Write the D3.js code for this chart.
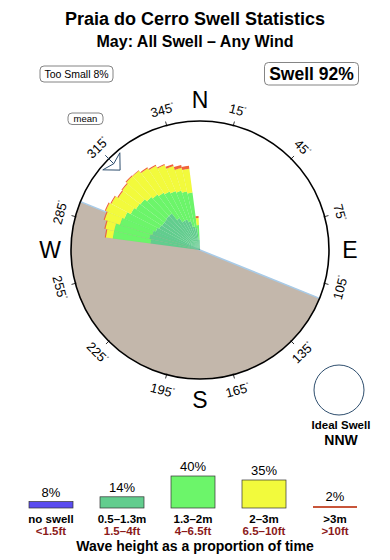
<!DOCTYPE html>
<html>
<head>
<meta charset="utf-8">
<script src="https://cdn.jsdelivr.net/npm/d3@7"></script>
<style>
  html, body { margin: 0; padding: 0; background: #fff; }
  svg { display: block; font-family: "Liberation Sans", Arial, sans-serif; }
</style>
</head>
<body>
<svg id="chart" width="390" height="560"></svg>
<script>
// swell direction bins (deg, centre of each 5 deg wedge)
var bins = [280, 285, 290, 295, 300, 305, 310, 315, 320, 325, 330, 335, 340, 345, 350, 355]
// % of time per bin for each height class
var small  = [1.63, 1.76, 1.63, 1.50, 1.38, 1.32, 1.32, 1.38, 1.38, 0.94, 0.71, 0.71, 0.59, 0.38, 0.32, 0.07]
var medium = [3.42, 3.29, 2.97, 2.88, 2.59, 2.45, 2.35, 2.00, 1.81, 2.07, 2.13, 1.96, 1.92, 1.97, 1.87, 0.34]
var large  = [0.83, 1.08, 1.92, 2.40, 2.55, 2.36, 2.59, 3.14, 3.33, 3.12, 3.04, 2.85, 2.54, 2.25, 2.19, 0.26]
var huge   = [0.13, 0.13, 0.13, 0.14, 0.13, 0.13, 0.13, 0.13, 0.07, 0.13, 0.13, 0.12, 0.23, 0.33, 0.33, 0.08]

var legendNames = ['no swell', '0.5–1.3m', '1.3–2m', '2–3m', '>3m']
var legendFeet  = ['<1.5ft', '1.5–4ft', '4–6.5ft', '6.5–10ft', '>10ft']
var legendPct   = [8, 14, 40, 35, 2]

var degreeTicks = [15, 45, 75, 105, 135, 165, 195, 225, 255, 285, 315, 345]
var compassNames = ['N', 'E', 'S', 'W']
var compassDeg   = [0, 90, 180, 270]

var coastBearing = 292   // shore line runs 292 -> 112, land to the SW
var meanBearing = 315
var tooSmall = 8
var swellPct = 92
var idealName = 'NNW'

//
// setup
//
var W = 390, H = 560
var cx = 200, cy = 250, R = 129
var colors = ['#5a4cf0', '#62cd8e', '#6cf56a', '#f2fa3c', '#f0643a']
var legendColors = ['#5a4cf0', '#62cd8e', '#6cf56a', '#f2fa3c', '#c8553a']

var svg = d3.select('#chart')
svg.append('rect').attr('width', W).attr('height', H).attr('fill', '#fff')

var rad = function (d) { return d * Math.PI / 180 }
var polar = function (deg, r) { return [cx + r * Math.sin(rad(deg)), cy - r * Math.cos(rad(deg))] }

// titles
svg.append('text').attr('x', 195).attr('y', 25).attr('text-anchor', 'middle')
  .attr('font-size', 18).attr('font-weight', 'bold').text('Praia do Cerro Swell Statistics')
svg.append('text').attr('x', 195).attr('y', 47).attr('text-anchor', 'middle')
  .attr('font-size', 16).attr('font-weight', 'bold').text('May: All Swell – Any Wind')

function box(x, y, w, h, label, size, weight) {
  svg.append('rect').attr('x', x).attr('y', y).attr('width', w).attr('height', h).attr('rx', 4)
    .attr('fill', '#fff').attr('stroke', '#666').attr('stroke-width', 0.8)
  svg.append('text').attr('x', x + w / 2).attr('y', y + h / 2).attr('dy', '0.36em')
    .attr('text-anchor', 'middle').attr('font-size', size).attr('font-weight', weight || 'normal').text(label)
}
box(40, 66, 73, 16, 'Too Small ' + tooSmall + '%', 10.5)
box(264.5, 62.5, 94, 22.5, 'Swell ' + swellPct + '%', 17.5, 'bold')
box(68, 113, 35, 11.5, 'mean', 9.5)

var rose = svg.append('g').attr('transform', 'translate(' + cx + ',' + cy + ')')

// land half disc + shoreline
rose.append('path')
  .attr('d', d3.arc()({ innerRadius: 0, outerRadius: R, startAngle: rad(coastBearing - 180), endAngle: rad(coastBearing) }))
  .attr('fill', '#c3b7ab')
var c0 = polar(coastBearing, R), c1 = polar(coastBearing - 180, R)
rose.append('line').attr('x1', c0[0] - cx).attr('y1', c0[1] - cy).attr('x2', c1[0] - cx).attr('y2', c1[1] - cy)
  .attr('stroke', '#a8cbe8').attr('stroke-width', 1.5)

// stacked wedges
var r = d3.scaleSqrt().domain([0, 10.85]).range([0, R])
var table = bins.map(function (b, i) {
  return { dir: b, small: small[i], medium: medium[i], large: large[i], huge: huge[i] }
})
var keys = ['small', 'medium', 'large', 'huge']
var series = d3.stack().keys(keys)(table)
var arc = d3.arc()

rose.selectAll('g.layer').data(series).join('g')
  .attr('class', 'layer')
  .attr('fill', function (d, i) { return colors[i + 1] })
  .selectAll('path').data(function (d) { return d }).join('path')
  .attr('d', function (d) {
    return arc({ innerRadius: r(d[0]), outerRadius: r(d[1]),
      startAngle: rad(d.data.dir - 2.5), endAngle: rad(d.data.dir + 2.5) })
  })
  .attr('stroke', 'rgba(0,0,0,0.035)').attr('stroke-width', 0.4)

// outer ring
rose.append('circle').attr('r', R).attr('fill', 'none').attr('stroke', '#000').attr('stroke-width', 1.6)

// degree ticks + labels
degreeTicks.forEach(function (deg) {
  var a = polar(deg, R - 1), b = polar(deg, R + 4)
  svg.append('line').attr('x1', a[0]).attr('y1', a[1]).attr('x2', b[0]).attr('y2', b[1])
    .attr('stroke', '#000').attr('stroke-width', 0.8)
  var p = polar(deg, 145)
  var rot = deg % 180 > 90 ? deg % 180 - 180 : deg % 180
  var t = svg.append('text').attr('transform', 'translate(' + p[0] + ',' + p[1] + ') rotate(' + rot + ')')
    .attr('text-anchor', 'middle').attr('dy', '0.36em').attr('font-size', 13)
  t.append('tspan').text(deg)
  t.append('tspan').attr('font-size', 6).attr('dy', '-0.9em').text('°')
})

compassNames.forEach(function (n, i) {
  var p = polar(compassDeg[i], 150)
  svg.append('text').attr('x', p[0]).attr('y', p[1]).attr('dy', '0.36em')
    .attr('text-anchor', 'middle').attr('font-size', 23).text(n)
})

// mean direction arrow: short shaft crossing the ring + open head
var head = [[-5.5, 126], [0, 113], [5.5, 126], [0, 122]]
var shaft = [[0, 134], [0, 122]]
svg.append('path')
  .attr('d', d3.line()(head.map(function (q) { return polar(meanBearing + q[0], q[1]) })) + 'Z')
  .attr('fill', '#fff').attr('stroke', '#2e4e6e').attr('stroke-width', 1)
svg.append('path')
  .attr('d', d3.line()(shaft.map(function (q) { return polar(meanBearing + q[0], q[1]) })))
  .attr('stroke', '#2e4e6e').attr('stroke-width', 1)

// ideal swell
svg.append('circle').attr('cx', 339).attr('cy', 390).attr('r', 25)
  .attr('fill', '#fff').attr('stroke', '#2e4e6e').attr('stroke-width', 1)
svg.append('text').attr('x', 341).attr('y', 429).attr('text-anchor', 'middle')
  .attr('font-size', 11.5).attr('font-weight', 'bold').text('Ideal Swell')
svg.append('text').attr('x', 341).attr('y', 445).attr('text-anchor', 'middle')
  .attr('font-size', 14).attr('font-weight', 'bold').text(idealName)

// legend
var lx = d3.scalePoint().domain(legendNames).range([51, 335])
var lh = d3.scaleLinear().domain([0, 40]).range([0, 32])
var base = 508, bw = 44

var lg = svg.append('g')
legendNames.forEach(function (n, i) {
  var x = lx(n), h = Math.max(lh(legendPct[i]), 2)
  lg.append('rect').attr('x', x - bw / 2).attr('y', base - h).attr('width', bw).attr('height', h)
    .attr('fill', legendColors[i]).attr('stroke', i == 4 ? 'none' : '#333').attr('stroke-width', 0.7)
  lg.append('text').attr('x', x).attr('y', base - h - 5).attr('text-anchor', 'middle')
    .attr('font-size', 13).text(legendPct[i] + '%')
  lg.append('text').attr('x', x).attr('y', 523).attr('text-anchor', 'middle')
    .attr('font-size', 11.5).attr('font-weight', 'bold').text(n)
  lg.append('text').attr('x', x).attr('y', 535).attr('text-anchor', 'middle')
    .attr('font-size', 11.5).attr('font-weight', 'bold').attr('fill', '#8b1a1a').text(legendFeet[i])
})
svg.append('text').attr('x', 195).attr('y', 551).attr('text-anchor', 'middle')
  .attr('font-size', 14).attr('font-weight', 'bold').text('Wave height as a proportion of time')
</script>
</body>
</html>
